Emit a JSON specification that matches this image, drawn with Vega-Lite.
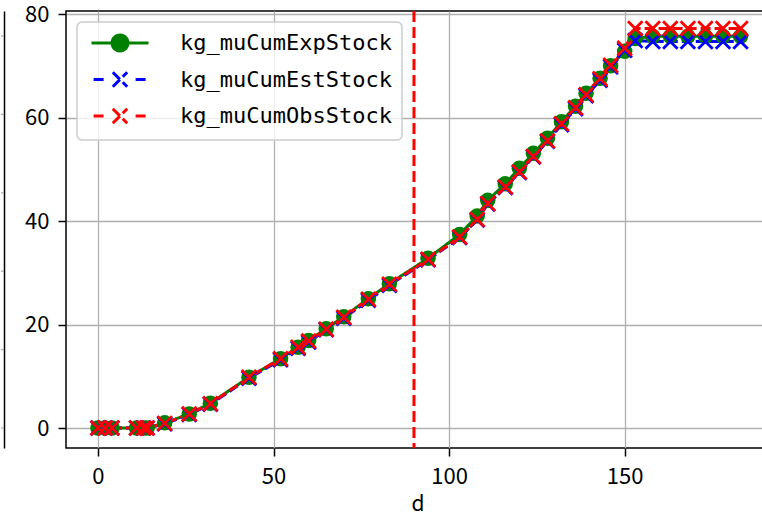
{
  "$schema": "https://vega.github.io/schema/vega-lite/v6.json",
  "padding": {"left": 0, "top": 2, "right": 0, "bottom": 0},
  "bounds": "flush",
  "spacing": 62,
  "resolve": {"scale": {"color": "independent", "strokeDash": "independent"}, "legend": {"color": "independent", "strokeDash": "independent"}},
  "config": {
    "font": "Noto Sans CJK JP",
    "view": {"stroke": "black", "strokeWidth": 1.5},
    "axis": {
      "domain": false,
      "grid": true,
      "gridColor": "#b0b0b0",
      "gridWidth": 1.3,
      "tickColor": "black",
      "tickWidth": 1.5,
      "tickSize": 8,
      "labelFont": "Noto Sans CJK JP",
      "labelFontSize": 22,
      "labelColor": "black",
      "titleFont": "Noto Sans CJK JP",
      "titleFontSize": 21,
      "titleFontWeight": "normal",
      "titleColor": "black"
    }
  },
  "hconcat": [
    {
      "width": 3,
      "height": 437,
      "view": {"stroke": null},
      "data": {"values": [{"g": 0}, {"g": 1}, {"g": 2}, {"g": 3}, {"g": 4}, {"g": 5}]},
      "mark": {"type": "rule", "color": "#b0b0b0", "strokeWidth": 1.3},
      "encoding": {
        "y": {
          "field": "g",
          "type": "quantitative",
          "scale": {"domain": [-0.255, 5.32], "nice": false, "zero": false},
          "axis": {"orient": "right", "labels": false, "ticks": false, "grid": false, "domain": true, "domainColor": "black", "domainWidth": 1.5, "title": null}
        }
      }
    },
    {
      "width": 703,
      "height": 437,
      "data": {
        "values": [
          {"d": 0, "kg_muCumExpStock": 0, "kg_muCumEstStock": 0, "kg_muCumObsStock": 0},
          {"d": 2, "kg_muCumExpStock": 0, "kg_muCumEstStock": 0, "kg_muCumObsStock": 0},
          {"d": 4, "kg_muCumExpStock": 0, "kg_muCumEstStock": 0, "kg_muCumObsStock": 0},
          {"d": 11, "kg_muCumExpStock": 0, "kg_muCumEstStock": 0, "kg_muCumObsStock": 0},
          {"d": 13, "kg_muCumExpStock": 0, "kg_muCumEstStock": 0, "kg_muCumObsStock": 0},
          {"d": 14, "kg_muCumExpStock": 0, "kg_muCumEstStock": 0, "kg_muCumObsStock": 0},
          {"d": 19, "kg_muCumExpStock": 1.0, "kg_muCumEstStock": 0.8, "kg_muCumObsStock": 0.9},
          {"d": 26, "kg_muCumExpStock": 2.7, "kg_muCumEstStock": 2.6, "kg_muCumObsStock": 2.7},
          {"d": 32, "kg_muCumExpStock": 4.8, "kg_muCumEstStock": 4.6, "kg_muCumObsStock": 4.7},
          {"d": 43, "kg_muCumExpStock": 9.8, "kg_muCumEstStock": 9.6, "kg_muCumObsStock": 9.8},
          {"d": 52, "kg_muCumExpStock": 13.4, "kg_muCumEstStock": 13.2, "kg_muCumObsStock": 13.4},
          {"d": 57, "kg_muCumExpStock": 15.6, "kg_muCumEstStock": 15.4, "kg_muCumObsStock": 15.6},
          {"d": 60, "kg_muCumExpStock": 16.9, "kg_muCumEstStock": 16.6, "kg_muCumObsStock": 16.8},
          {"d": 65, "kg_muCumExpStock": 19.2, "kg_muCumEstStock": 19.0, "kg_muCumObsStock": 19.1},
          {"d": 70, "kg_muCumExpStock": 21.5, "kg_muCumEstStock": 21.2, "kg_muCumObsStock": 21.4},
          {"d": 77, "kg_muCumExpStock": 25.0, "kg_muCumEstStock": 24.7, "kg_muCumObsStock": 24.9},
          {"d": 83, "kg_muCumExpStock": 27.9, "kg_muCumEstStock": 27.6, "kg_muCumObsStock": 27.8},
          {"d": 94, "kg_muCumExpStock": 32.8, "kg_muCumEstStock": 32.5, "kg_muCumObsStock": 32.6},
          {"d": 103, "kg_muCumExpStock": 37.4, "kg_muCumEstStock": 36.8, "kg_muCumObsStock": 36.9},
          {"d": 108, "kg_muCumExpStock": 41.0, "kg_muCumEstStock": 40.2, "kg_muCumObsStock": 40.3},
          {"d": 111, "kg_muCumExpStock": 44.0, "kg_muCumEstStock": 43.3, "kg_muCumObsStock": 43.4},
          {"d": 116, "kg_muCumExpStock": 47.2, "kg_muCumEstStock": 46.5, "kg_muCumObsStock": 46.6},
          {"d": 120, "kg_muCumExpStock": 50.2, "kg_muCumEstStock": 49.4, "kg_muCumObsStock": 49.5},
          {"d": 124, "kg_muCumExpStock": 53.1, "kg_muCumEstStock": 52.4, "kg_muCumObsStock": 52.5},
          {"d": 128, "kg_muCumExpStock": 56.0, "kg_muCumEstStock": 55.4, "kg_muCumObsStock": 55.5},
          {"d": 132, "kg_muCumExpStock": 59.2, "kg_muCumEstStock": 58.6, "kg_muCumObsStock": 58.8},
          {"d": 136, "kg_muCumExpStock": 62.2, "kg_muCumEstStock": 61.7, "kg_muCumObsStock": 61.9},
          {"d": 139, "kg_muCumExpStock": 64.7, "kg_muCumEstStock": 64.2, "kg_muCumObsStock": 64.4},
          {"d": 143, "kg_muCumExpStock": 67.6, "kg_muCumEstStock": 67.2, "kg_muCumObsStock": 67.5},
          {"d": 146, "kg_muCumExpStock": 70.0, "kg_muCumEstStock": 69.8, "kg_muCumObsStock": 70.1},
          {"d": 150, "kg_muCumExpStock": 72.8, "kg_muCumEstStock": 73.0, "kg_muCumObsStock": 73.4},
          {"d": 153, "kg_muCumExpStock": 75.3, "kg_muCumEstStock": 74.9, "kg_muCumObsStock": 77.2},
          {"d": 158, "kg_muCumExpStock": 75.7, "kg_muCumEstStock": 74.7, "kg_muCumObsStock": 77.2},
          {"d": 163, "kg_muCumExpStock": 75.7, "kg_muCumEstStock": 74.7, "kg_muCumObsStock": 77.2},
          {"d": 168, "kg_muCumExpStock": 75.7, "kg_muCumEstStock": 74.7, "kg_muCumObsStock": 77.2},
          {"d": 173, "kg_muCumExpStock": 75.7, "kg_muCumEstStock": 74.7, "kg_muCumObsStock": 77.2},
          {"d": 178, "kg_muCumExpStock": 75.7, "kg_muCumEstStock": 74.7, "kg_muCumObsStock": 77.2},
          {"d": 183, "kg_muCumExpStock": 75.7, "kg_muCumEstStock": 74.7, "kg_muCumObsStock": 77.2}
        ]
      },
      "transform": [
        {"fold": ["kg_muCumExpStock", "kg_muCumEstStock", "kg_muCumObsStock"], "as": ["series", "value"]}
      ],
      "encoding": {
        "x": {
          "field": "d",
          "type": "quantitative",
          "scale": {"domain": [-9.1, 191.1], "nice": false, "zero": false},
          "axis": {"values": [0, 50, 100, 150], "labelPadding": 10, "titlePadding": 6, "title": "d"}
        }
      },
      "layer": [
        {
          "mark": {"type": "line", "strokeWidth": 3},
          "encoding": {
            "y": {
              "field": "value",
              "type": "quantitative",
              "scale": {"domain": [-3.86, 80.6], "nice": false, "zero": false},
              "axis": {"values": [0, 20, 40, 60, 80], "labelPadding": 9, "title": null}
            },
            "color": {
              "field": "series",
              "type": "nominal",
              "scale": {"domain": ["kg_muCumExpStock", "kg_muCumEstStock", "kg_muCumObsStock"], "range": ["#008000", "#0000ff", "#ff0000"]},
              "legend": {
                "title": null,
                "orient": "top-left",
                "offset": 11,
                "padding": 10,
                "rowPadding": 8.5,
                "symbolSize": 144,
                "symbolOffset": 22,
                "labelOffset": 49,
                "labelLimit": 0,
                "labelFont": "DejaVu Sans Mono",
                "labelFontSize": 22,
                "labelColor": "black",
                "fillColor": "rgba(255,255,255,0.8)",
                "strokeColor": "#cccccc",
                "cornerRadius": 5,
                "encode": {
                  "legend": {"update": {"strokeWidth": {"value": 1.5}}},
                  "symbols": {
                    "update": {
                      "shape": {"signal": "datum.value === 'kg_muCumExpStock' ? 'M-4.75,0L4.75,0M1.33,0A1.33,1.33 0 1,1 -1.33,0A1.33,1.33 0 1,1 1.33,0Z' : 'M-4.4,0L-2.6,0M2.6,0L4.4,0M-1.2,-1.2L1.2,1.2M-1.2,1.2L1.2,-1.2'"},
                      "fill": {"signal": "datum.value === 'kg_muCumExpStock' ? '#008000' : 'transparent'"},
                      "stroke": {"signal": "datum.value === 'kg_muCumExpStock' ? '#008000' : datum.value === 'kg_muCumEstStock' ? '#0000ff' : '#ff0000'"},
                      "strokeWidth": {"value": 3},
                      "strokeDash": {"value": []},
                      "opacity": {"value": 1}
                    }
                  }
                }
              }
            },
            "strokeDash": {
              "field": "series",
              "type": "nominal",
              "scale": {"domain": ["kg_muCumExpStock", "kg_muCumEstStock", "kg_muCumObsStock"], "range": [[1, 0], [10, 4], [10, 4]]},
              "legend": null
            }
          }
        },
        {
          "transform": [{"filter": "datum.series === 'kg_muCumExpStock'"}],
          "mark": {"type": "point", "shape": "circle", "filled": true, "size": 240, "color": "#008000", "opacity": 1},
          "encoding": {"y": {"field": "value", "type": "quantitative"}}
        },
        {
          "transform": [{"filter": "datum.series === 'kg_muCumEstStock'"}],
          "mark": {"type": "point", "shape": "M-1,-1L1,1M-1,1L1,-1", "filled": false, "size": 210, "color": "#0000ff", "strokeWidth": 2.8, "opacity": 1},
          "encoding": {"y": {"field": "value", "type": "quantitative"}}
        },
        {
          "transform": [{"filter": "datum.series === 'kg_muCumObsStock'"}],
          "mark": {"type": "point", "shape": "M-1,-1L1,1M-1,1L1,-1", "filled": false, "size": 210, "color": "#ff0000", "strokeWidth": 2.8, "opacity": 1},
          "encoding": {"y": {"field": "value", "type": "quantitative"}}
        },
        {
          "data": {"values": [{"d": 90}]},
          "mark": {"type": "rule", "color": "#ff0000", "strokeWidth": 3, "strokeDash": [11, 5]},
          "encoding": {"x": {"field": "d", "type": "quantitative"}}
        }
      ]
    }
  ]
}
